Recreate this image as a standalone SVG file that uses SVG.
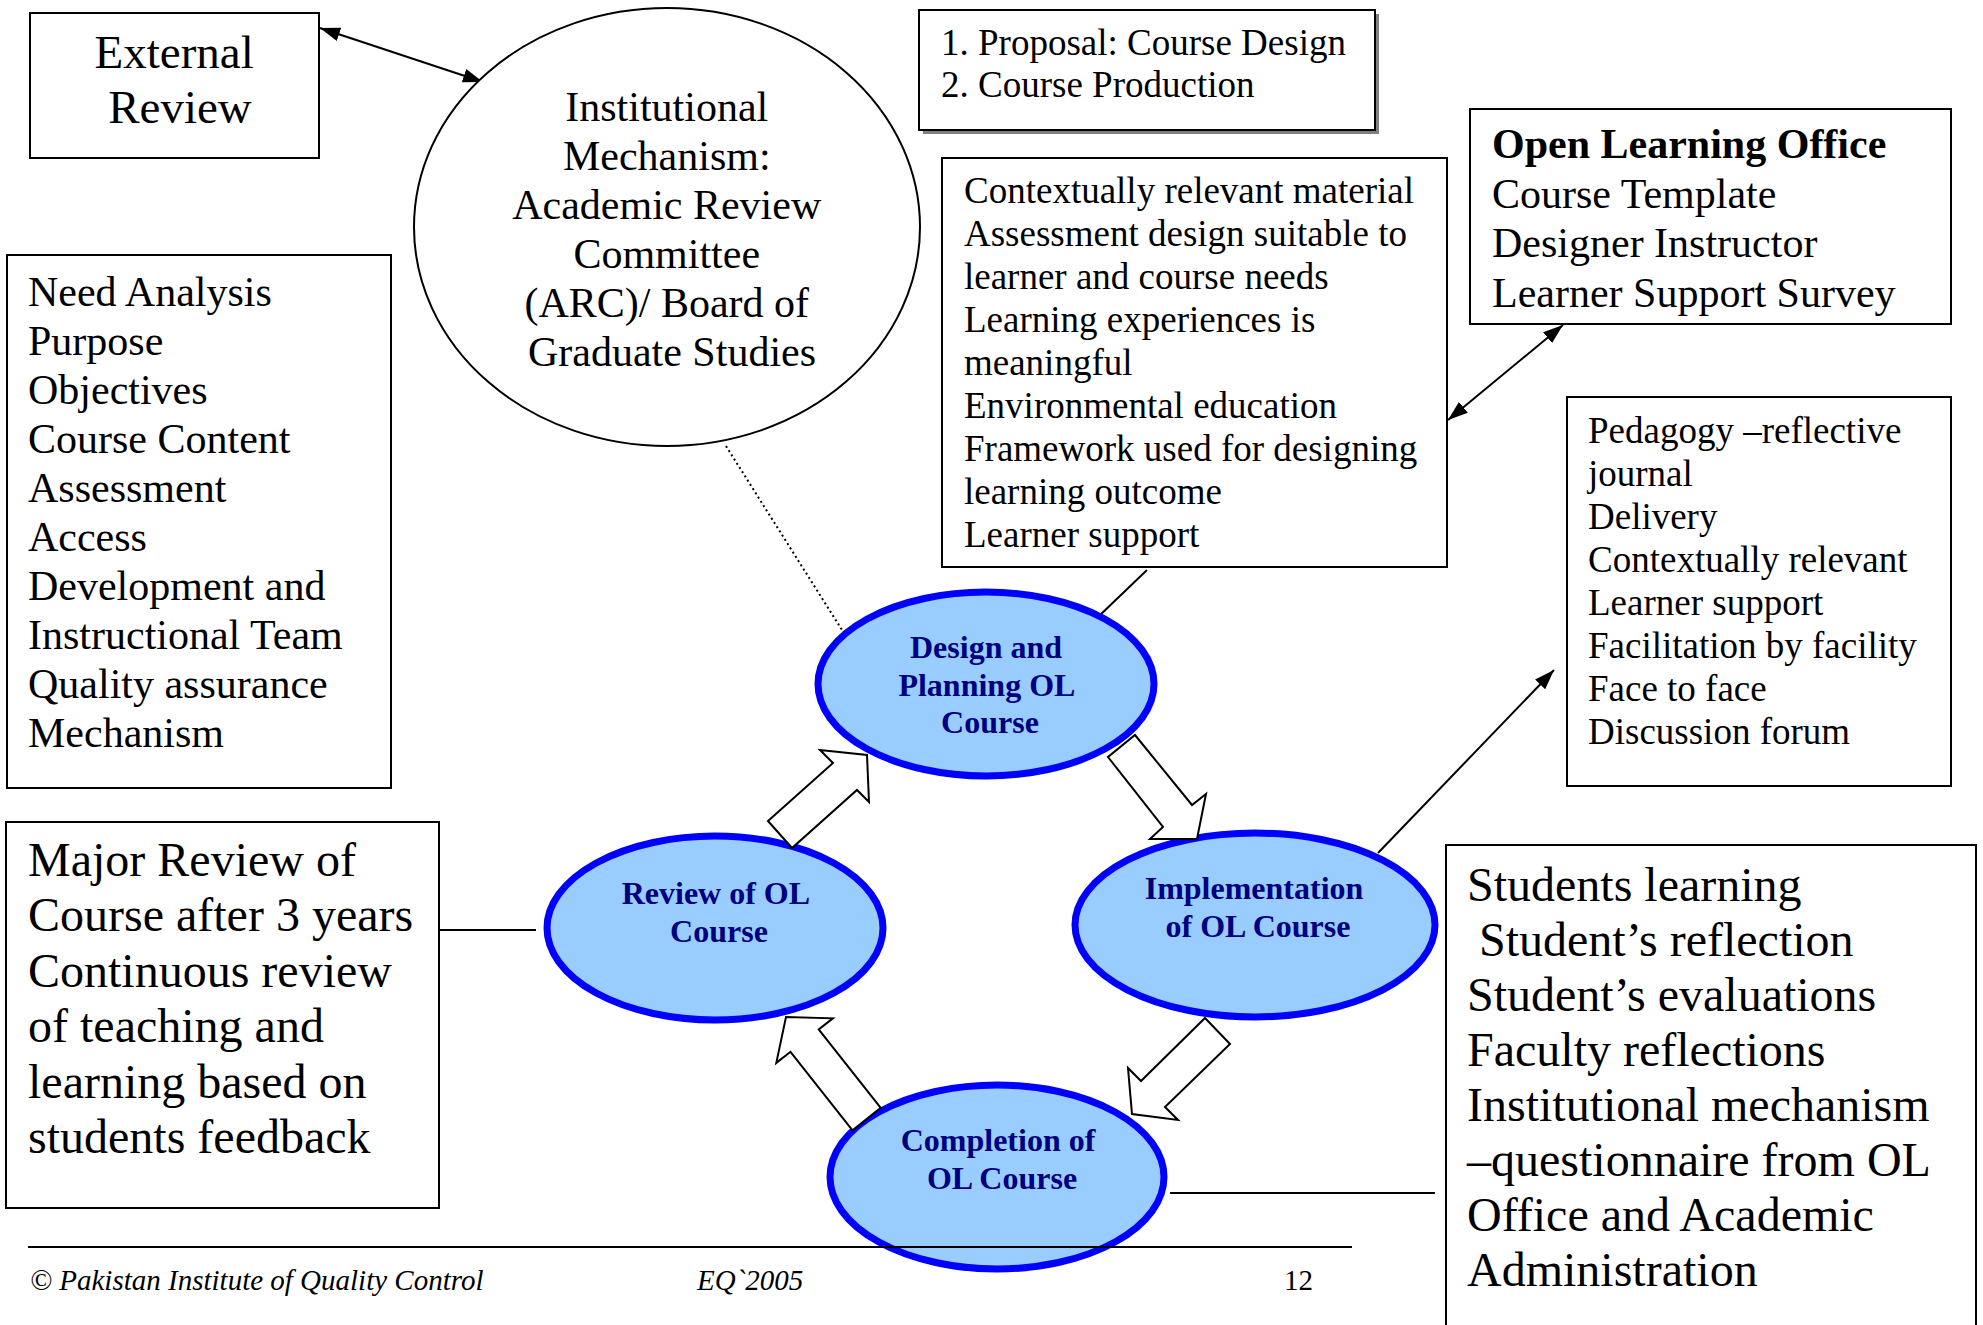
<svg xmlns="http://www.w3.org/2000/svg" width="1983" height="1325" viewBox="0 0 1983 1325">
  <style>
    .box { fill: #ffffff; stroke: #000000; stroke-width: 2; }
    .t { font-family: "Liberation Serif", "Times New Roman", serif; fill: #000000; }
    .stage { fill: #99CCFF; stroke: #0000FF; stroke-width: 7; }
    .stage-label { font-family: "Liberation Serif", "Times New Roman", serif; font-weight: bold; font-size: 32px; fill: #000080; text-anchor: middle; }
    .link { stroke: #000000; stroke-width: 2; fill: none; }
    .block { fill: #ffffff; stroke: #000000; stroke-width: 2; stroke-linejoin: miter; }
  </style>
  <defs>
    <marker id="head" viewBox="0 0 20 14" refX="20" refY="7" markerWidth="20" markerHeight="14" markerUnits="userSpaceOnUse" orient="auto-start-reverse">
      <path d="M0,0 L20,7 L0,14 z" fill="#000000"/>
    </marker>
  </defs>

  <rect width="1983" height="1325" fill="#ffffff"/>

  <!-- connectors -->
  <g id="connectors">
    <line class="link" x1="320" y1="28" x2="483" y2="82" marker-start="url(#head)" marker-end="url(#head)"/>
    <line class="link" x1="1563" y1="325" x2="1448" y2="420" marker-start="url(#head)" marker-end="url(#head)"/>
    <line class="link" x1="1378" y1="853" x2="1554" y2="670" marker-end="url(#head)"/>
    <line class="link" x1="726" y1="446" x2="842" y2="630" stroke-width="1.5" stroke-dasharray="2 3"/>
    <line class="link" x1="1147" y1="570" x2="1098" y2="617"/>
    <line class="link" x1="440" y1="930" x2="536" y2="930"/>
    <line class="link" x1="1170" y1="1193" x2="1435" y2="1193"/>
  </g>

  <!-- outer boxes -->
  <g id="external-review">
    <rect class="box" x="30" y="13" width="289" height="145"/>
    <text class="t" font-size="47" text-anchor="middle">
      <tspan x="180" y="68">External</tspan>
      <tspan x="180" y="123">Review</tspan>
    </text>
  </g>

  <g id="institutional-mechanism">
    <ellipse cx="667" cy="227" rx="253" ry="219" fill="#ffffff" stroke="#000000" stroke-width="2"/>
    <text class="t" font-size="42" text-anchor="middle">
      <tspan x="672" y="121">Institutional</tspan>
      <tspan x="672" y="170">Mechanism:</tspan>
      <tspan x="672" y="219">Academic Review</tspan>
      <tspan x="672" y="268">Committee</tspan>
      <tspan x="672" y="317">(ARC)/ Board of</tspan>
      <tspan x="672" y="366">Graduate Studies</tspan>
    </text>
  </g>

  <g id="proposal">
    <rect x="923" y="14" width="456" height="120" fill="#808080"/>
    <rect class="box" x="919" y="10" width="456" height="120"/>
    <text class="t" font-size="37">
      <tspan x="941" y="55">1. Proposal: Course Design</tspan>
      <tspan x="941" y="97">2. Course Production</tspan>
    </text>
  </g>

  <g id="design-criteria">
    <rect class="box" x="942" y="158" width="505" height="409"/>
    <text class="t" font-size="37">
      <tspan x="964" y="203">Contextually relevant material</tspan>
      <tspan x="964" y="246">Assessment design suitable to</tspan>
      <tspan x="964" y="289">learner and course needs</tspan>
      <tspan x="964" y="332">Learning experiences is</tspan>
      <tspan x="964" y="375">meaningful</tspan>
      <tspan x="964" y="418">Environmental education</tspan>
      <tspan x="964" y="461">Framework used for designing</tspan>
      <tspan x="964" y="504">learning outcome</tspan>
      <tspan x="964" y="547">Learner support</tspan>
    </text>
  </g>

  <g id="open-learning-office">
    <rect class="box" x="1470" y="109" width="481" height="215"/>
    <text class="t" font-size="42">
      <tspan x="1492" y="158" font-weight="bold">Open Learning Office</tspan>
      <tspan x="1492" y="208">Course Template</tspan>
      <tspan x="1492" y="257">Designer Instructor</tspan>
      <tspan x="1492" y="307">Learner Support Survey</tspan>
    </text>
  </g>

  <g id="implementation-criteria">
    <rect class="box" x="1567" y="397" width="384" height="389"/>
    <text class="t" font-size="37">
      <tspan x="1588" y="443">Pedagogy –reflective</tspan>
      <tspan x="1588" y="486">journal</tspan>
      <tspan x="1588" y="529">Delivery</tspan>
      <tspan x="1588" y="572">Contextually relevant</tspan>
      <tspan x="1588" y="615">Learner support</tspan>
      <tspan x="1588" y="658">Facilitation by facility</tspan>
      <tspan x="1588" y="701">Face to face</tspan>
      <tspan x="1588" y="744">Discussion forum</tspan>
    </text>
  </g>

  <g id="planning-checklist">
    <rect class="box" x="7" y="255" width="384" height="533"/>
    <text class="t" font-size="42">
      <tspan x="28" y="306">Need Analysis</tspan>
      <tspan x="28" y="355">Purpose</tspan>
      <tspan x="28" y="404">Objectives</tspan>
      <tspan x="28" y="453">Course Content</tspan>
      <tspan x="28" y="502">Assessment</tspan>
      <tspan x="28" y="551">Access</tspan>
      <tspan x="28" y="600">Development and</tspan>
      <tspan x="28" y="649">Instructional Team</tspan>
      <tspan x="28" y="698">Quality assurance</tspan>
      <tspan x="28" y="747">Mechanism</tspan>
    </text>
  </g>

  <g id="major-review">
    <rect class="box" x="6" y="822" width="433" height="386"/>
    <text class="t" font-size="48">
      <tspan x="28" y="876">Major Review of</tspan>
      <tspan x="28" y="931">Course after 3 years</tspan>
      <tspan x="28" y="987">Continuous review</tspan>
      <tspan x="28" y="1042">of teaching and</tspan>
      <tspan x="28" y="1098">learning based on</tspan>
      <tspan x="28" y="1153">students feedback</tspan>
    </text>
  </g>

  <g id="completion-evidence">
    <rect class="box" x="1446" y="845" width="530" height="500"/>
    <text class="t" font-size="48" xml:space="preserve"><tspan x="1467" y="901">Students learning</tspan><tspan x="1467" y="956"> Student’s reflection</tspan><tspan x="1467" y="1011">Student’s evaluations</tspan><tspan x="1467" y="1066">Faculty reflections</tspan><tspan x="1467" y="1121">Institutional mechanism</tspan><tspan x="1467" y="1176">–questionnaire from OL</tspan><tspan x="1467" y="1231">Office and Academic</tspan><tspan x="1467" y="1286">Administration</tspan></text>
  </g>

  <!-- cycle stages -->
  <g id="stage-design">
    <ellipse class="stage" cx="986" cy="684" rx="168" ry="92"/>
    <text class="stage-label">
      <tspan x="990" y="658">Design and</tspan>
      <tspan x="990" y="696">Planning OL</tspan>
      <tspan x="990" y="733">Course</tspan>
    </text>
  </g>

  <g id="stage-implementation">
    <ellipse class="stage" cx="1255" cy="925" rx="180" ry="92"/>
    <text class="stage-label">
      <tspan x="1258" y="899">Implementation</tspan>
      <tspan x="1258" y="937">of OL Course</tspan>
    </text>
  </g>

  <g id="stage-completion">
    <ellipse class="stage" cx="997" cy="1177" rx="167" ry="92"/>
    <text class="stage-label">
      <tspan x="1002" y="1151">Completion of</tspan>
      <tspan x="1002" y="1189">OL Course</tspan>
    </text>
  </g>

  <g id="stage-review">
    <ellipse class="stage" cx="715" cy="928" rx="168" ry="92"/>
    <text class="stage-label">
      <tspan x="719" y="904">Review of OL</tspan>
      <tspan x="719" y="942">Course</tspan>
    </text>
  </g>

  <!-- block arrows of the cycle -->
  <g id="cycle-arrows">
    <polygon class="block" points="768,821 833,763 820,750 867,755 869,802 857,790 792,848"/>
    <polygon class="block" points="1135,735 1192,805 1206,794 1197,839 1150,839 1163,827 1108,757"/>
    <polygon class="block" points="1205,1018 1230,1044 1165,1107 1178,1120 1132,1114 1128,1068 1141,1081"/>
    <polygon class="block" points="880.7,1107.9 818.7,1029.4 832.9,1018.3 786,1017 776.3,1062.9 790.5,1051.8 852.5,1130.3"/>
  </g>

  <!-- footer -->
  <g id="footer">
    <line class="link" x1="28" y1="1247" x2="1352" y2="1247"/>
    <text class="t" font-size="29" font-style="italic" x="30" y="1290">© Pakistan Institute of Quality Control</text>
    <text class="t" font-size="29" font-style="italic" x="697" y="1290">EQ`2005</text>
    <text class="t" font-size="29" x="1284" y="1290">12</text>
  </g>
</svg>
